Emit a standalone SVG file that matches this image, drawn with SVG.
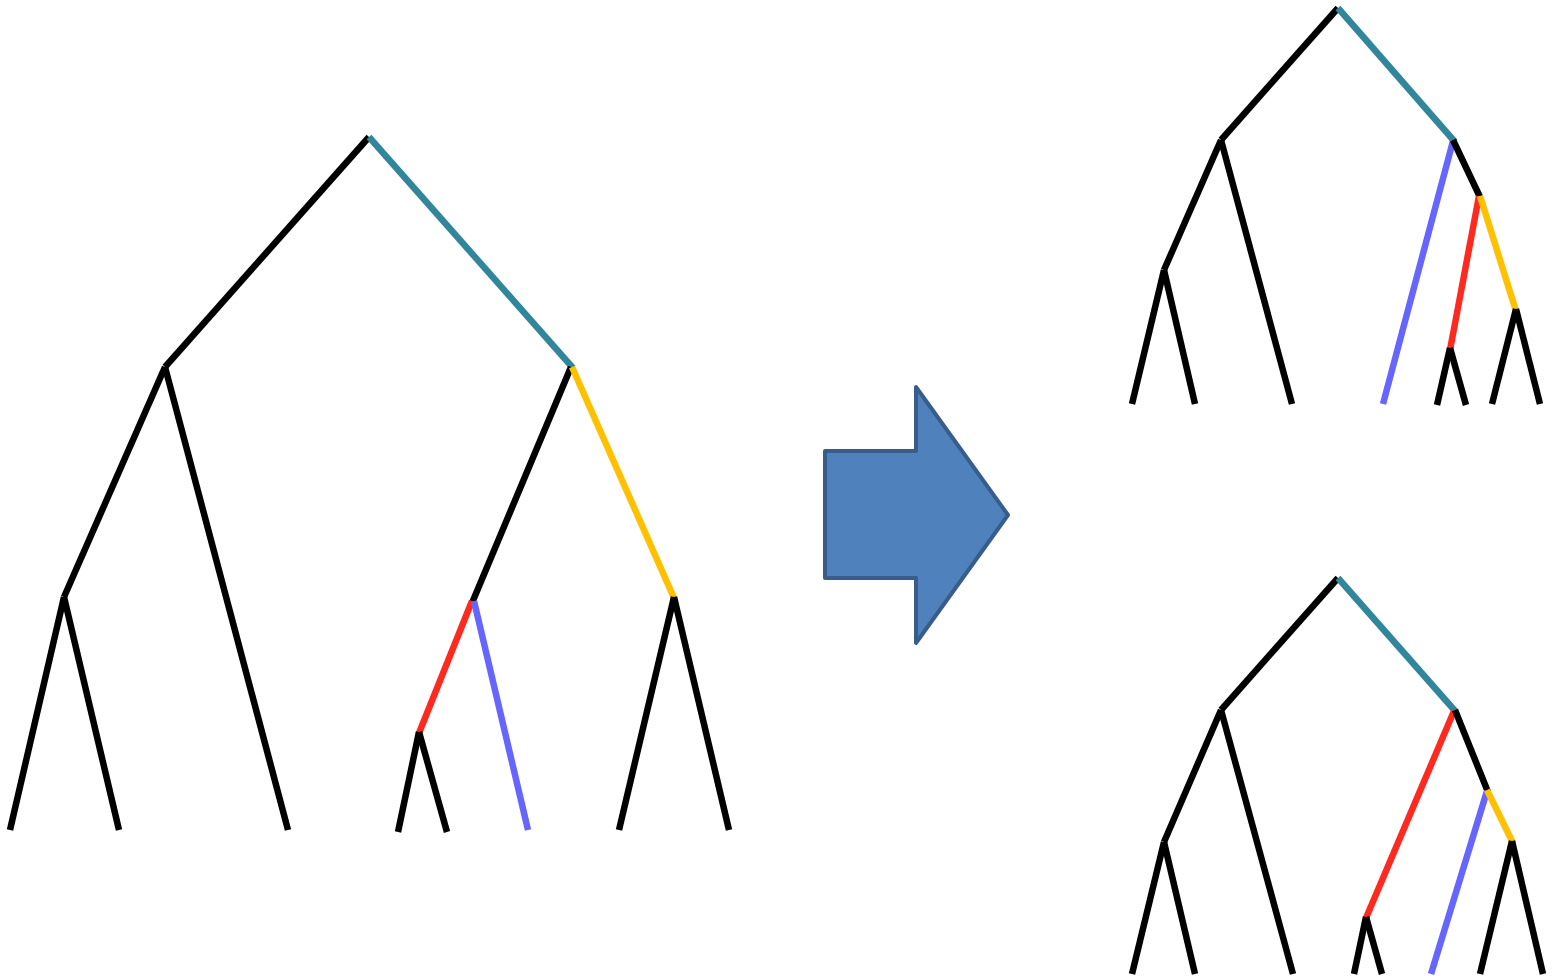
<svg xmlns="http://www.w3.org/2000/svg" width="1552" height="976" viewBox="0 0 1552 976">
<style>
line{stroke-width:6.5;stroke-linecap:butt;fill:none}
.k{stroke:#000}
.t{stroke:#31869B}
.y{stroke:#FFC000}
.r{stroke:#FF2A1F}
.b{stroke:#6666FF}
</style>
<rect width="1552" height="976" fill="#fff"/>
<g id="tree-left">
<line class="k" x1="369" y1="137" x2="165" y2="367"/>
<line class="t" x1="369" y1="137" x2="573" y2="368"/>
<line class="k" x1="165" y1="367" x2="64" y2="597"/>
<line class="k" x1="165" y1="367" x2="288" y2="830"/>
<line class="k" x1="64" y1="597" x2="10" y2="830"/>
<line class="k" x1="64" y1="597" x2="119" y2="830"/>
<line class="k" x1="571" y1="367" x2="472" y2="603"/>
<line class="y" x1="572" y1="367" x2="674" y2="598"/>
<line class="r" x1="472" y1="601" x2="419" y2="733"/>
<line class="b" x1="474" y1="601" x2="528" y2="830"/>
<line class="k" x1="419" y1="732" x2="398" y2="832"/>
<line class="k" x1="419" y1="732" x2="447" y2="832"/>
<line class="k" x1="674" y1="597" x2="619" y2="830"/>
<line class="k" x1="674" y1="597" x2="729" y2="830"/>
</g>
<g id="arrow">
<polygon points="825,451 916,451 916,387 1008,515 916,643 916,578 825,578" fill="#4F81BD" stroke="#385D8A" stroke-width="4" stroke-linejoin="round"/>
</g>
<g id="tree-top-right">
<line class="k" x1="1338" y1="8" x2="1221" y2="140"/>
<line class="t" x1="1338" y1="8" x2="1455" y2="142"/>
<line class="k" x1="1221" y1="140" x2="1164" y2="270"/>
<line class="k" x1="1221" y1="140" x2="1292" y2="404"/>
<line class="k" x1="1164" y1="270" x2="1132" y2="404"/>
<line class="k" x1="1164" y1="270" x2="1195" y2="404"/>
<line class="b" x1="1453" y1="141" x2="1383" y2="404"/>
<line class="k" x1="1453" y1="140" x2="1480" y2="197"/>
<line class="r" x1="1479" y1="196" x2="1450" y2="350"/>
<line class="y" x1="1480" y1="196" x2="1516" y2="311"/>
<line class="k" x1="1450" y1="348" x2="1437" y2="405"/>
<line class="k" x1="1450" y1="348" x2="1466" y2="405"/>
<line class="k" x1="1516" y1="309" x2="1492" y2="404"/>
<line class="k" x1="1516" y1="309" x2="1540" y2="404"/>
</g>
<g id="tree-bottom-right">
<line class="k" x1="1338" y1="578" x2="1221" y2="710"/>
<line class="t" x1="1338" y1="578" x2="1456" y2="712"/>
<line class="k" x1="1221" y1="710" x2="1164" y2="842"/>
<line class="k" x1="1221" y1="710" x2="1293" y2="974"/>
<line class="k" x1="1164" y1="842" x2="1132" y2="974"/>
<line class="k" x1="1164" y1="842" x2="1195" y2="974"/>
<line class="r" x1="1454" y1="711" x2="1366" y2="918"/>
<line class="k" x1="1455" y1="710" x2="1488" y2="792"/>
<line class="b" x1="1487" y1="791" x2="1431" y2="974"/>
<line class="y" x1="1487" y1="790" x2="1513" y2="843"/>
<line class="k" x1="1366" y1="917" x2="1354" y2="974"/>
<line class="k" x1="1366" y1="917" x2="1382" y2="974"/>
<line class="k" x1="1512" y1="841" x2="1480" y2="974"/>
<line class="k" x1="1512" y1="841" x2="1543" y2="974"/>
</g>
</svg>
